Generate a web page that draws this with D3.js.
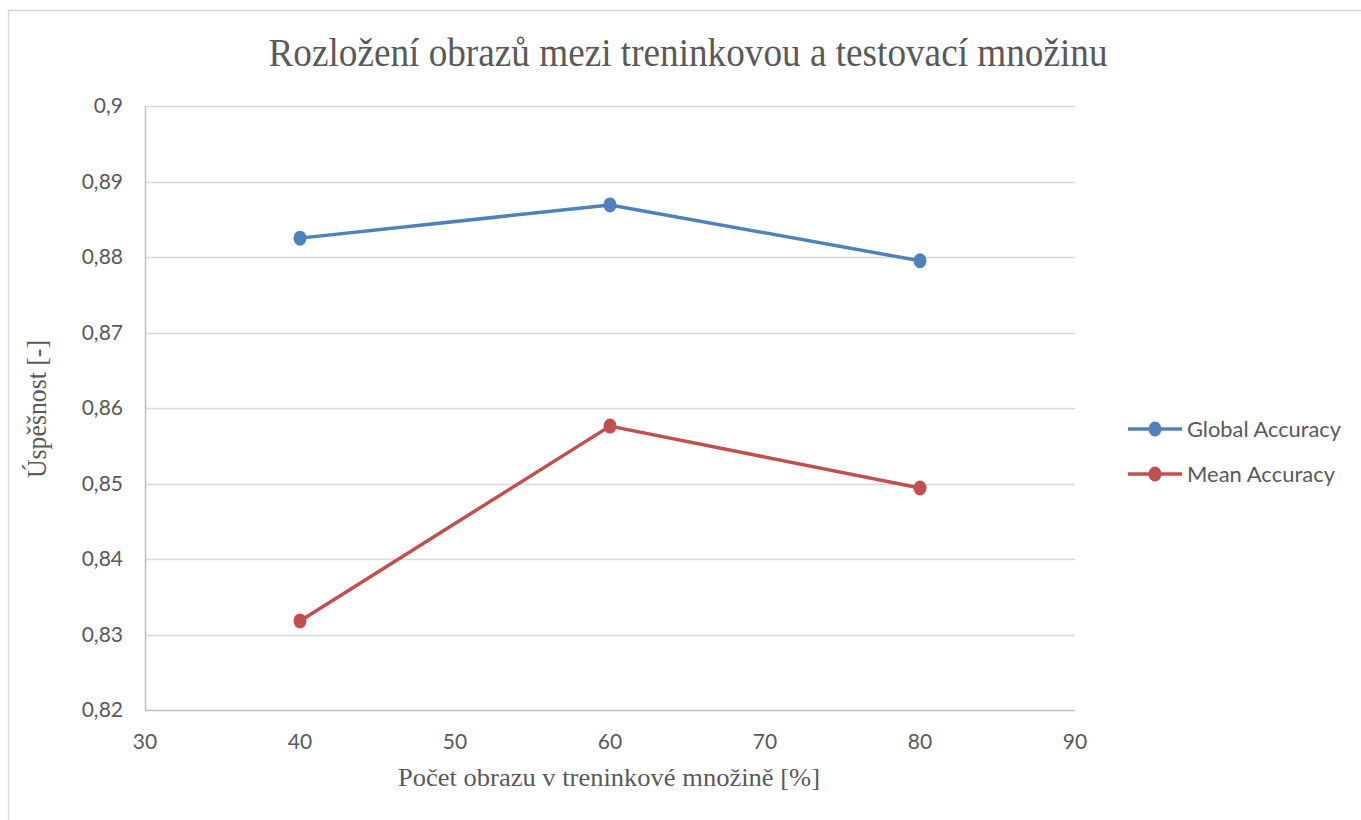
<!DOCTYPE html>
<html>
<head>
<meta charset="utf-8">
<script src="https://cdn.jsdelivr.net/npm/d3@7"></script>
<style>
  html, body { margin: 0; padding: 0; background: #fff; }
  svg { display: block; }
</style>
</head>
<body>
<svg id="chart" width="1361" height="820"></svg>
<script>
// Training-set share (%) on the x axis
const trainShare = [40, 60, 80];
// Accuracy values per series
const globalAccuracy = [0.8825, 0.8869, 0.8795];
const meanAccuracy = [0.8318, 0.8576, 0.8494];
const seriesNames = ["Global Accuracy", "Mean Accuracy"];
const seriesColors = ["#4f81bd", "#c0504d"];
const xTicks = [30, 40, 50, 60, 70, 80, 90];
const yTicks = [0.82, 0.83, 0.84, 0.85, 0.86, 0.87, 0.88, 0.89, 0.9];

const titleText = "Rozložení obrazů mezi treninkovou a testovací množinu";
const xTitle = "Počet obrazu v treninkové množině [%]";
const yTitle = "Úspěšnost [-]";

const svg = d3.select("#chart");
const W = 1361, H = 820;
const plot = { left: 145, right: 1075, top: 106, bottom: 710 };

const x = d3.scaleLinear().domain([30, 90]).range([plot.left, plot.right]);
const y = d3.scaleLinear().domain([0.82, 0.9]).range([plot.bottom, plot.top]);

const tickFont = "Lato, 'Open Sans', sans-serif";
const serif = "'Liberation Serif', 'Times New Roman', serif";
const fmt = v => d3.format("")(+v.toFixed(2)).replace(".", ",");

// chart frame
svg.append("rect")
  .attr("x", 8.5).attr("y", 10.5)
  .attr("width", W + 20).attr("height", H + 20)
  .attr("fill", "#fff").attr("stroke", "#d9d9d9").attr("stroke-width", 1.5);

// horizontal gridlines
svg.append("g").selectAll("line")
  .data(yTicks.filter(t => t > 0.82))
  .join("line")
  .attr("x1", plot.left).attr("x2", plot.right)
  .attr("y1", d => Math.round(y(d)) + 0.5).attr("y2", d => Math.round(y(d)) + 0.5)
  .attr("stroke", "#d9d9d9").attr("stroke-width", 1.5);

// axes lines
svg.append("line")
  .attr("x1", plot.left + 0.5).attr("x2", plot.left + 0.5)
  .attr("y1", plot.top).attr("y2", plot.bottom)
  .attr("stroke", "#bfbfbf").attr("stroke-width", 1.5);
svg.append("line")
  .attr("x1", plot.left).attr("x2", plot.right)
  .attr("y1", plot.bottom + 0.5).attr("y2", plot.bottom + 0.5)
  .attr("stroke", "#bfbfbf").attr("stroke-width", 1.5);

// y tick labels
svg.append("g").selectAll("text")
  .data(yTicks)
  .join("text")
  .attr("x", 123).attr("y", d => y(d))
  .attr("dy", "0.35em")
  .attr("text-anchor", "end")
  .attr("font-family", tickFont).attr("font-size", 21)
  .attr("fill", "#595959")
  .text(d => fmt(d));

// x tick labels
svg.append("g").selectAll("text")
  .data(xTicks)
  .join("text")
  .attr("x", d => x(d)).attr("y", 742)
  .attr("dy", "0.35em")
  .attr("text-anchor", "middle")
  .attr("font-family", tickFont).attr("font-size", 21)
  .attr("fill", "#595959")
  .text(d => d);

// title
svg.append("text")
  .attr("x", 688).attr("y", 66)
  .attr("text-anchor", "middle")
  .attr("font-family", serif).attr("font-size", 39)
  .attr("fill", "#595959")
  .attr("textLength", 839).attr("lengthAdjust", "spacingAndGlyphs")
  .text(titleText);

// axis titles
svg.append("text")
  .attr("x", 609).attr("y", 786)
  .attr("text-anchor", "middle")
  .attr("font-family", serif).attr("font-size", 26)
  .attr("fill", "#595959")
  .attr("textLength", 422).attr("lengthAdjust", "spacingAndGlyphs")
  .text(xTitle);

svg.append("text")
  .attr("transform", "translate(46,409) rotate(-90)")
  .attr("text-anchor", "middle")
  .attr("font-family", serif).attr("font-size", 27)
  .attr("fill", "#595959")
  .attr("textLength", 138).attr("lengthAdjust", "spacingAndGlyphs")
  .text(yTitle);

// series
const series = [globalAccuracy, meanAccuracy].map((vals, i) => ({
  name: seriesNames[i], color: seriesColors[i],
  points: vals.map((v, j) => ({ x: trainShare[j], y: v }))
}));

const line = d3.line().x(d => x(d.x)).y(d => y(d.y));

const sg = svg.append("g").selectAll("g").data(series).join("g");
sg.append("path")
  .attr("d", d => line(d.points))
  .attr("fill", "none")
  .attr("stroke", d => d.color)
  .attr("stroke-width", 3.5)
  .attr("stroke-linejoin", "round");
sg.each(function(s) {
  d3.select(this).selectAll("ellipse").data(s.points).join("ellipse")
    .attr("cx", d => x(d.x)).attr("cy", d => y(d.y))
    .attr("rx", 6.5).attr("ry", 7.5)
    .attr("fill", s.color);
});

// legend
const legendY = [429, 474];
const legendWidths = [154, 148];
const lg = svg.append("g").selectAll("g").data(series).join("g")
  .attr("transform", (d, i) => `translate(0,${legendY[i]})`);
lg.append("line")
  .attr("x1", 1128).attr("x2", 1182)
  .attr("stroke", d => d.color).attr("stroke-width", 3.5);
lg.append("ellipse")
  .attr("cx", 1155).attr("cy", 0).attr("rx", 6.5).attr("ry", 7.5)
  .attr("fill", d => d.color);
lg.append("text")
  .attr("x", 1187).attr("y", 0).attr("dy", "0.35em")
  .attr("font-family", tickFont).attr("font-size", 22)
  .attr("fill", "#595959")
  .attr("textLength", (d, i) => legendWidths[i]).attr("lengthAdjust", "spacingAndGlyphs")
  .text(d => d.name);
</script>
</body>
</html>
